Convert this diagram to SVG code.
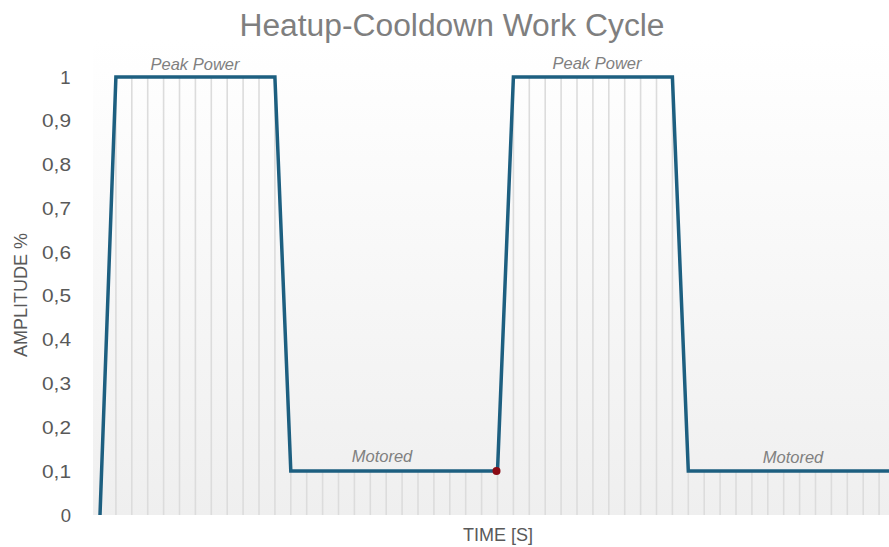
<svg xmlns="http://www.w3.org/2000/svg" width="889" height="547" viewBox="0 0 889 547">
<defs>
<linearGradient id="bg" x1="0" y1="0" x2="0" y2="1">
<stop offset="0" stop-color="#ffffff"/>
<stop offset="1" stop-color="#efefef"/>
</linearGradient>
<style>
.ax{font-family:"Liberation Sans",Arial,sans-serif;font-size:18px;fill:#595959}
.yl{text-anchor:end;font-size:18.5px}
.lbl{font-family:"Liberation Sans",Arial,sans-serif;font-size:16.5px;font-style:italic;fill:#808080;text-anchor:middle}
.drop{stroke:#dcdcdc;stroke-width:1.6}
</style>
</defs>
<rect width="889" height="547" fill="#ffffff"/>
<rect x="93" y="40" width="796" height="475" fill="url(#bg)"/>
<text x="452" y="36" text-anchor="middle" font-family="Liberation Sans,Arial,sans-serif" font-size="31" fill="#7f7f7f" textLength="425" lengthAdjust="spacingAndGlyphs">Heatup-Cooldown Work Cycle</text>
<g id="y-axis">
<text class="ax yl" x="70.5" y="83.5">1</text>
<text class="ax yl" x="71" y="127" textLength="29" lengthAdjust="spacingAndGlyphs">0,9</text>
<text class="ax yl" x="71" y="171" textLength="29" lengthAdjust="spacingAndGlyphs">0,8</text>
<text class="ax yl" x="71" y="214.5" textLength="29" lengthAdjust="spacingAndGlyphs">0,7</text>
<text class="ax yl" x="71" y="258.5" textLength="29" lengthAdjust="spacingAndGlyphs">0,6</text>
<text class="ax yl" x="71" y="302" textLength="29" lengthAdjust="spacingAndGlyphs">0,5</text>
<text class="ax yl" x="71" y="346" textLength="29" lengthAdjust="spacingAndGlyphs">0,4</text>
<text class="ax yl" x="71" y="390" textLength="29" lengthAdjust="spacingAndGlyphs">0,3</text>
<text class="ax yl" x="71" y="433.5" textLength="29" lengthAdjust="spacingAndGlyphs">0,2</text>
<text class="ax yl" x="71" y="477.5" textLength="29" lengthAdjust="spacingAndGlyphs">0,1</text>
<text class="ax yl" x="71" y="521.5">0</text>
<text class="ax" x="0" y="0" text-anchor="middle" transform="translate(27,295) rotate(-90)">AMPLITUDE %</text>
</g>
<g id="x-axis">
<text class="ax" x="498" y="541" text-anchor="middle">TIME [S]</text>
</g>
<g id="drop-lines" class="drop">
<line x1="115.9" y1="77" x2="115.9" y2="515"/>
<line x1="131.8" y1="77" x2="131.8" y2="515"/>
<line x1="147.7" y1="77" x2="147.7" y2="515"/>
<line x1="163.6" y1="77" x2="163.6" y2="515"/>
<line x1="179.5" y1="77" x2="179.5" y2="515"/>
<line x1="195.4" y1="77" x2="195.4" y2="515"/>
<line x1="211.3" y1="77" x2="211.3" y2="515"/>
<line x1="227.2" y1="77" x2="227.2" y2="515"/>
<line x1="243.1" y1="77" x2="243.1" y2="515"/>
<line x1="259" y1="77" x2="259" y2="515"/>
<line x1="274.9" y1="77" x2="274.9" y2="515"/>
<line x1="290.8" y1="471" x2="290.8" y2="515"/>
<line x1="306.7" y1="471" x2="306.7" y2="515"/>
<line x1="322.6" y1="471" x2="322.6" y2="515"/>
<line x1="338.5" y1="471" x2="338.5" y2="515"/>
<line x1="354.4" y1="471" x2="354.4" y2="515"/>
<line x1="370.3" y1="471" x2="370.3" y2="515"/>
<line x1="386.2" y1="471" x2="386.2" y2="515"/>
<line x1="402.1" y1="471" x2="402.1" y2="515"/>
<line x1="418" y1="471" x2="418" y2="515"/>
<line x1="433.9" y1="471" x2="433.9" y2="515"/>
<line x1="449.8" y1="471" x2="449.8" y2="515"/>
<line x1="465.7" y1="471" x2="465.7" y2="515"/>
<line x1="481.6" y1="471" x2="481.6" y2="515"/>
<line x1="497.5" y1="471" x2="497.5" y2="515"/>
<line x1="513.4" y1="77" x2="513.4" y2="515"/>
<line x1="529.3" y1="77" x2="529.3" y2="515"/>
<line x1="545.2" y1="77" x2="545.2" y2="515"/>
<line x1="561.1" y1="77" x2="561.1" y2="515"/>
<line x1="577" y1="77" x2="577" y2="515"/>
<line x1="592.9" y1="77" x2="592.9" y2="515"/>
<line x1="608.8" y1="77" x2="608.8" y2="515"/>
<line x1="624.7" y1="77" x2="624.7" y2="515"/>
<line x1="640.6" y1="77" x2="640.6" y2="515"/>
<line x1="656.5" y1="77" x2="656.5" y2="515"/>
<line x1="672.4" y1="77" x2="672.4" y2="515"/>
<line x1="688.3" y1="471" x2="688.3" y2="515"/>
<line x1="704.2" y1="471" x2="704.2" y2="515"/>
<line x1="720.1" y1="471" x2="720.1" y2="515"/>
<line x1="736" y1="471" x2="736" y2="515"/>
<line x1="751.9" y1="471" x2="751.9" y2="515"/>
<line x1="767.8" y1="471" x2="767.8" y2="515"/>
<line x1="783.7" y1="471" x2="783.7" y2="515"/>
<line x1="799.6" y1="471" x2="799.6" y2="515"/>
<line x1="815.5" y1="471" x2="815.5" y2="515"/>
<line x1="831.4" y1="471" x2="831.4" y2="515"/>
<line x1="847.3" y1="471" x2="847.3" y2="515"/>
<line x1="863.2" y1="471" x2="863.2" y2="515"/>
<line x1="879.1" y1="471" x2="879.1" y2="515"/>
</g>
<g id="series">
<polyline points="100,515 115.9,77 274.9,77 290.8,471 497.5,471 513.4,77 672.4,77 688.3,471 889,471" fill="none" stroke="#1d5f80" stroke-width="3.5" stroke-linejoin="miter"/>
<circle cx="496.5" cy="471" r="4" fill="#8a0a14"/>
</g>
<g id="labels">
<text class="lbl" x="195" y="70">Peak Power</text>
<text class="lbl" x="597" y="69">Peak Power</text>
<text class="lbl" x="382" y="462">Motored</text>
<text class="lbl" x="793" y="463">Motored</text>
</g>
</svg>
